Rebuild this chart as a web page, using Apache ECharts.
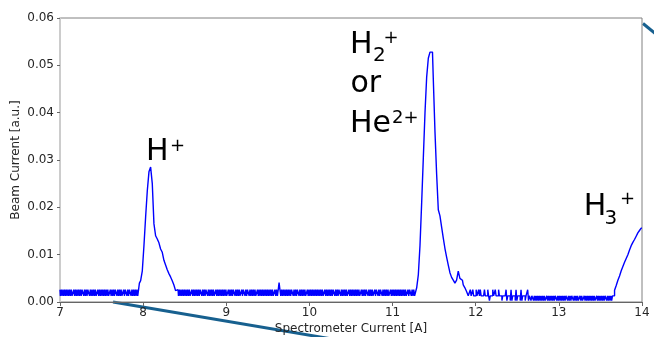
<!DOCTYPE html>
<html>
<head>
<meta charset="utf-8">
<script src="https://cdn.jsdelivr.net/npm/echarts@6/dist/echarts.min.js"></script>
<style>
html,body{margin:0;padding:0;background:#fff;}
#chart{width:654px;height:337px;}
</style>
</head>
<body>
<div id="chart"></div>
<script>
// Each segment: start current [A], sample spacing [A], beam current readings [a.u.]
const xTicks = [7, 8, 9, 10, 11, 12, 13, 14];
const yTicks = [0, 0.01, 0.02, 0.03, 0.04, 0.05, 0.06];

// 7.00 – 7.95 A baseline (0.01 A spacing)
const baselineLow = [
  0.0026,0.0013,0.0026,0.0013,0.0026,0.0013,0.0026,0.0013,0.0026,0.0013,
  0.0026,0.0013,0.0026,0.0013,0.0026,0.0013,0.0013,0.0026,0.0013,0.0026,
  0.0013,0.0026,0.0013,0.0026,0.0013,0.0026,0.0013,0.0026,0.0026,0.0013,
  0.0026,0.0013,0.0026,0.0013,0.0026,0.0026,0.0013,0.0026,0.0013,0.0026,
  0.0013,0.0026,0.0013,0.0026,0.0013,0.0013,0.0026,0.0013,0.0026,0.0013,
  0.0026,0.0013,0.0026,0.0013,0.0026,0.0013,0.0026,0.0013,0.0026,0.0013,
  0.0013,0.0026,0.0013,0.0026,0.0013,0.0026,0.0013,0.0026,0.0026,0.0013,
  0.0026,0.0013,0.0026,0.0013,0.0026,0.0013,0.0013,0.0026,0.0013,0.0026,
  0.0026,0.0013,0.0026,0.0013,0.0026,0.0026,0.0013,0.0026,0.0013,0.0026,
  0.0013,0.0026,0.0013,0.0026,0.0013,0.0026
];
// 7.96 – 8.40 A : H+ peak (0.02 A spacing)
const hPlusPeak = [
  0.0040,0.0045,0.0066,0.0120,0.0180,0.0235,0.0275,0.0285,0.0250,0.0165,
  0.0140,0.0133,0.0125,0.0112,0.0105,0.0088,0.0078,0.0068,0.0060,0.0053,
  0.0045,0.0036,0.0024
];
// 8.42 – 11.27 A baseline (0.01 A spacing)
const baselineMid = [
  0.0026,0.0013,0.0026,0.0013,0.0026,0.0013,0.0026,0.0013,0.0026,0.0013,
  0.0026,0.0013,0.0026,0.0013,0.0026,0.0013,0.0013,0.0026,0.0013,0.0026,
  0.0013,0.0026,0.0013,0.0026,0.0013,0.0026,0.0013,0.0026,0.0026,0.0013,
  0.0026,0.0013,0.0026,0.0013,0.0026,0.0026,0.0013,0.0026,0.0013,0.0026,
  0.0013,0.0026,0.0013,0.0026,0.0013,0.0013,0.0026,0.0013,0.0026,0.0013,
  0.0026,0.0013,0.0026,0.0013,0.0026,0.0013,0.0026,0.0013,0.0026,0.0013,
  0.0013,0.0026,0.0013,0.0026,0.0013,0.0026,0.0013,0.0026,0.0026,0.0013,
  0.0026,0.0013,0.0026,0.0013,0.0026,0.0013,0.0013,0.0026,0.0013,0.0026,
  0.0026,0.0013,0.0026,0.0013,0.0026,0.0026,0.0013,0.0026,0.0013,0.0026,
  0.0013,0.0026,0.0013,0.0026,0.0013,0.0013,0.0026,0.0013,0.0026,0.0013,
  0.0026,0.0013,0.0026,0.0013,0.0026,0.0013,0.0026,0.0013,0.0026,0.0013,
  0.0026,0.0013,0.0026,0.0013,0.0026,0.0013,0.0013,0.0026,0.0013,0.0026,
  0.0013,0.0026,0.0041,0.0026,0.0013,0.0026,0.0013,0.0026,0.0013,0.0026,
  0.0013,0.0026,0.0013,0.0026,0.0013,0.0026,0.0013,0.0026,0.0026,0.0013,
  0.0026,0.0013,0.0026,0.0013,0.0026,0.0026,0.0013,0.0026,0.0013,0.0026,
  0.0013,0.0026,0.0013,0.0026,0.0013,0.0013,0.0026,0.0013,0.0026,0.0013,
  0.0026,0.0013,0.0026,0.0013,0.0026,0.0013,0.0026,0.0013,0.0026,0.0013,
  0.0026,0.0013,0.0026,0.0013,0.0026,0.0013,0.0013,0.0026,0.0013,0.0026,
  0.0013,0.0026,0.0013,0.0026,0.0013,0.0026,0.0013,0.0026,0.0026,0.0013,
  0.0026,0.0013,0.0026,0.0013,0.0026,0.0026,0.0013,0.0026,0.0013,0.0026,
  0.0013,0.0026,0.0013,0.0026,0.0013,0.0013,0.0026,0.0013,0.0026,0.0013,
  0.0026,0.0013,0.0026,0.0013,0.0026,0.0013,0.0026,0.0013,0.0026,0.0013,
  0.0013,0.0026,0.0013,0.0026,0.0013,0.0026,0.0013,0.0026,0.0026,0.0013,
  0.0026,0.0013,0.0026,0.0013,0.0026,0.0013,0.0013,0.0026,0.0013,0.0026,
  0.0026,0.0013,0.0026,0.0013,0.0026,0.0026,0.0013,0.0026,0.0013,0.0026,
  0.0013,0.0026,0.0013,0.0026,0.0013,0.0013,0.0026,0.0013,0.0026,0.0013,
  0.0026,0.0013,0.0026,0.0013,0.0026,0.0013,0.0026,0.0013,0.0026,0.0013,
  0.0026,0.0013,0.0026,0.0013,0.0026,0.0013,0.0013,0.0026,0.0013,0.0026,
  0.0026,0.0013,0.0026,0.0013,0.0026,0.0013
];
// 11.28 – 11.90 A : H2+ / He2+ peak (0.02 A spacing)
const h2PlusPeak = [
  0.0020,0.0030,0.0058,0.0120,0.0210,0.0305,0.0400,0.0475,0.0515,0.0528,
  0.0528,0.0470,0.0360,0.0270,0.0195,0.0182,0.0158,0.0135,0.0113,0.0095,
  0.0078,0.0062,0.0052,0.0046,0.0040,0.0046,0.0065,0.0050,0.0046,0.0036,
  0.0030,0.0022
];
// 11.92 – 13.65 A baseline (0.01 A spacing)
const baselineHigh = [
  0.0013,0.0013,0.0026,0.0013,0.0013,0.0026,0.0013,0.0013,0.0013,0.0026,
  0.0013,0.0013,0.0026,0.0013,0.0026,0.0013,0.0013,0.0013,0.0013,0.0026,
  0.0013,0.0013,0.0013,0.0026,0.0013,0.0003,0.0013,0.0013,0.0013,0.0026,
  0.0013,0.0013,0.0026,0.0013,0.0013,0.0013,0.0026,0.0013,
  0.0013,0.0013,0.0003,0.0013,0.0013,0.0013,0.0013,0.0026,0.0003,0.0013,
  0.0013,0.0013,0.0003,0.0026,0.0003,0.0013,0.0013,0.0013,0.0003,0.0026,
  0.0003,0.0013,0.0013,0.0013,0.0003,0.0026,0.0003,0.0013,0.0013,0.0013,
  0.0003,0.0013,0.0013,0.0026,0.0003,0.0013,0.0013,0.0003,0.0013,0.0013,
  0.0003,0.0013,0.0003,0.0013,0.0003,0.0013,0.0003,0.0013,0.0003,0.0013,
  0.0003,0.0013,0.0003,0.0013,0.0003,0.0003,0.0013,0.0003,0.0013,0.0003,
  0.0013,0.0003,0.0013,0.0003,0.0013,0.0003,0.0013,0.0013,0.0003,0.0013,
  0.0003,0.0013,0.0003,0.0013,0.0003,0.0013,0.0003,0.0013,0.0003,0.0013,
  0.0013,0.0003,0.0013,0.0003,0.0013,0.0003,0.0013,0.0013,0.0003,0.0013,
  0.0003,0.0013,0.0003,0.0013,0.0003,0.0003,0.0013,0.0003,0.0013,0.0003,
  0.0003,0.0013,0.0003,0.0013,0.0003,0.0013,0.0003,0.0013,0.0003,0.0013,
  0.0003,0.0013,0.0003,0.0013,0.0003,0.0003,0.0013,0.0003,0.0013,0.0003,
  0.0013,0.0003,0.0013,0.0003,0.0013,0.0003,0.0013,0.0013,0.0003,0.0013,
  0.0003,0.0013,0.0003,0.0013,0.0003,0.0013
];
// 13.66 – 14.00 A : H3+ rising edge (0.02 A spacing)
const h3PlusRise = [
  0.0013,0.0025,0.0035,0.0046,0.0055,0.0066,0.0075,0.0084,0.0092,0.0100,
  0.0110,0.0119,0.0126,0.0132,0.0139,0.0146,0.0151,0.0156
];

const segments = [
  [7.00, 0.01, baselineLow],
  [7.96, 0.02, hPlusPeak],
  [8.42, 0.01, baselineMid],
  [11.28, 0.02, h2PlusPeak],
  [11.92, 0.01, baselineHigh],
  [13.66, 0.02, h3PlusRise]
];
const seriesData = [];
segments.forEach(([start, step, vals]) => {
  vals.forEach((v, i) => seriesData.push([+(start + i * step).toFixed(2), v]));
});

const FONT = "'DejaVu Sans', sans-serif";
const chart = echarts.init(document.getElementById('chart'), null, {renderer: 'canvas'});

function txt(x, y, text, size) {
  return {
    type: 'text', x: x, y: y, z: 100,
    style: {text: text, fontFamily: FONT, fontSize: size, fill: '#000',
            align: 'left', verticalAlign: 'middle'}
  };
}

chart.setOption({
  animation: false,
  backgroundColor: '#fff',
  grid: {left: 60, right: 12, top: 18, bottom: 35, show: true,
         outerBoundsMode: 'none', containLabel: false,
         borderColor: '#808080', borderWidth: 1, backgroundColor: 'transparent'},
  xAxis: {
    type: 'value', min: xTicks[0], max: xTicks[xTicks.length - 1], interval: 1,
    name: 'Spectrometer Current [A]', nameLocation: 'middle', nameGap: 21,
    nameMoveOverlap: false,
    nameTextStyle: {fontFamily: FONT, fontSize: 12, color: '#262626'},
    axisLine: {show: true, onZero: false, lineStyle: {color: '#666', width: 1}},
    axisTick: {show: true, length: 4, lineStyle: {color: '#666'}},
    axisLabel: {fontFamily: FONT, fontSize: 12, color: '#262626', margin: 5},
    splitLine: {show: false}
  },
  yAxis: {
    type: 'value', min: yTicks[0], max: yTicks[yTicks.length - 1], interval: 0.01,
    name: 'Beam Current [a.u.]', nameLocation: 'middle', nameGap: 38,
    nameMoveOverlap: false,
    nameTextStyle: {fontFamily: FONT, fontSize: 12, color: '#262626'},
    axisLine: {show: true, lineStyle: {color: '#cccccc', width: 2}},
    axisTick: {show: true, length: 3, lineStyle: {color: '#666'}},
    axisLabel: {fontFamily: FONT, fontSize: 12, color: '#262626', margin: 6,
                formatter: v => v.toFixed(2)},
    splitLine: {show: false}
  },
  series: [{
    type: 'line', data: seriesData, showSymbol: false, symbol: 'none',
    step: 'middle', sampling: null, clip: true,
    lineStyle: {color: '#0000ff', width: 1.4}
  }],
  graphic: [
    {type: 'line', z: -1, shape: {x1: 113, y1: 302, x2: 332, y2: 339},
     style: {stroke: '#17608f', lineWidth: 3}},
    {type: 'line', z: -1, shape: {x1: 643, y1: 23.5, x2: 657, y2: 35},
     style: {stroke: '#17608f', lineWidth: 3}},
    txt(146, 152.5, 'H', 30),
    txt(170, 146, '+', 18),
    txt(350, 45.5, 'H', 30),
    txt(373, 56, '2', 20),
    txt(383.5, 38.4, '+', 18),
    txt(350.5, 84.6, 'or', 30),
    txt(350, 124.1, 'He', 30),
    txt(392, 117.9, '2+', 18),
    txt(583.7, 207.1, 'H', 30),
    txt(604.5, 218.9, '3', 20),
    txt(620, 199.2, '+', 18)
  ]
});
</script>
</body>
</html>
